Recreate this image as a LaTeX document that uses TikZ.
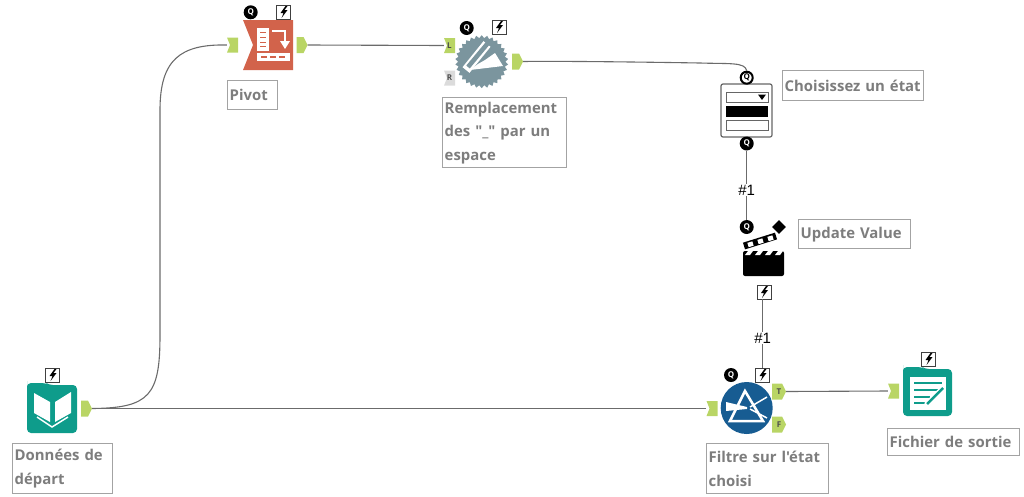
\documentclass[tikz,border=0pt]{standalone}
\usepackage{fontspec}
\newfontfamily\labelfont{Open Sans}
\setmainfont{Open Sans}
\newfontfamily\hashfont{Liberation Sans}
\usetikzlibrary{shapes.geometric,arrows.meta}
\definecolor{portgreen}{HTML}{B9D565}
\definecolor{pivotred}{HTML}{D2634B}
\definecolor{gearblue}{HTML}{7B959E}
\definecolor{tealicon}{HTML}{0E9C8B}
\definecolor{filterblue}{HTML}{175C92}
\definecolor{labelgrey}{HTML}{7D7D7D}
\definecolor{boxgrey}{HTML}{A3A3A3}
\definecolor{wiregrey}{HTML}{6B6B6B}
\tikzset{
    wire/.style={draw=wiregrey, line width=1.1pt},
    labelbox/.style={draw=boxgrey, line width=1.4pt, fill=white, anchor=north west, inner xsep=2pt, inner ysep=0pt,
        align=left, text=labelgrey, font=\fontsize{14.9}{23.5}\selectfont\labelfont\bfseries},
    hashlabel/.style={inner sep=1pt, font=\fontsize{15}{16}\selectfont\hashfont},
    qbadge/.style={circle, fill=black, minimum size=14pt, inner sep=0pt, text=white, font=\fontsize{8}{8}\selectfont\bfseries},
    qring/.style={circle, draw=black, line width=2pt, fill=white, minimum size=12pt, inner sep=0pt, text=black, font=\fontsize{8}{8}\selectfont\bfseries},
    boltbox/.style={rectangle, draw=black!75, line width=0.9pt, fill=white, minimum size=14pt, inner sep=0pt,
        path picture={\fill[black, shift={(path picture bounding box.center)}]
            (2,-6) -- (-3,1) -- (0,1) -- (-2,6) -- (4,-2) -- (1,-2) -- (4,-6) -- cycle;}},
    outport/.style={rectangle, minimum width=11pt, minimum height=16pt, inner sep=0pt, font=\fontsize{8}{8}\selectfont\bfseries, text=black!70,
        path picture={\fill[portgreen] (path picture bounding box.south west) -- (path picture bounding box.north west)
            -- ([xshift=-4pt]path picture bounding box.north east) -- (path picture bounding box.east)
            -- ([xshift=-4pt]path picture bounding box.south east) -- cycle;}},
    inport/.style={rectangle, minimum width=11pt, minimum height=15pt, inner sep=0pt, font=\fontsize{8}{8}\selectfont\bfseries, text=black!70,
        path picture={\fill[#1] (path picture bounding box.south west) -- ([xshift=3pt]path picture bounding box.west)
            -- (path picture bounding box.north west) -- (path picture bounding box.north east)
            -- (path picture bounding box.south east) -- cycle;}},
    inport/.default=portgreen,
}
\begin{document}
\begin{tikzpicture}[x=1pt,y=-1pt]
    \useasboundingbox (0,0) rectangle (1024,496);

    % Donnees de depart
    \fill[tealicon, rounded corners=4pt] (27,385) -- (27,383) -- (46,383) -- (49,385) -- (77,385) -- (77,433) -- (27,433) -- cycle;
    \fill[white] (34,393) -- (50,402) -- (50,422) -- (34,413) -- cycle;
    \fill[white] (55,402) -- (71,392) -- (71,413) -- (55,422) -- cycle;
    \draw[white, line width=1.5pt] (37,417) -- (52,427) -- (68,417);
    \node[boltbox] (boltData) at (52.5,375) {};
    \node[outport] (outData) at (86.5,408.5) {};
    \node[labelbox, minimum height=50pt, text width=96pt] (lblData) at (12,443) {Données de\\départ};

    % Pivot
    \fill[pivotred] (243,20) -- (293,20) -- (293,70) -- (243,70) -- (253,45) -- cycle;
    \fill[white] (257,28) rectangle (269,51);
    \foreach \y in {33,38,43,47} \fill[pivotred] (260,\y-1) rectangle (266,\y);
    \draw[white, line width=2pt] (272,31) -- (285,31) -- (285,42);
    \fill[white] (280,41) -- (290,41) -- (285,49) -- cycle;
    \fill[white] (257,53) rectangle (290,61);
    \foreach \x in {261,270,279} \fill[pivotred] (\x,56) rectangle (\x+6,58);
    \node[qbadge] (qPivot) at (250.7,12.3) {Q};
    \node[boltbox] (boltPivot) at (283.5,12) {};
    \node[inport] (inPivot) at (232.5,45) {};
    \node[outport] (outPivot) at (302,45) {};
    \node[labelbox, minimum height=29pt, text width=46pt] (lblPivot) at (227,80) {Pivot};

    % Remplacement
    \node[star, star points=30, star point ratio=1.12, minimum size=53pt, inner sep=0pt, fill=gearblue] (gear) at (481.7,61.7) {};
    \draw[white, line width=9pt] (466,70) -- (487,44);
    \draw[gearblue, line width=4.5pt] (468,67) -- (488,43);
    \fill[white] (470,70) -- (503,66) -- (495,53) -- (485,60) -- (478,64) -- cycle;
    \node[qbadge] (qGear) at (466.7,28) {Q};
    \node[boltbox] (boltGear) at (499,27) {};
    \node[inport] (inL) at (449.5,45.5) {L};
    \node[inport={black!14}] (inR) at (449.5,78) {R};
    \node[outport] (outGear) at (517.5,61.5) {};
    \node[labelbox, minimum height=70pt, text width=120pt] (lblGear) at (442,97) {Remplacement\\des "\_" par un\\espace};

    % Choisissez un etat
    \node[draw=black!60, line width=1.2pt, fill=white, rounded corners=2pt, minimum width=51pt, minimum height=53pt] (dropBox) at (746.5,110.5) {};
    \draw[black!60, line width=0.8pt] (726,92) rectangle (768,102);
    \fill[black] (726,106) rectangle (768,117);
    \draw[black!60, line width=0.8pt] (726,120) rectangle (768,130);
    \fill[black] (758,94.5) -- (766,94.5) -- (762,100) -- cycle;
    \node[qring] (qDropIn) at (746.7,77.7) {Q};
    \node[qbadge] (qDropOut) at (746.7,143.5) {Q};
    \node[labelbox, minimum height=30pt, text width=137pt] (lblDrop) at (782,70) {Choisissez un état};

    % Update Value
    \fill[black, rounded corners=2pt] (743,251) rectangle (784,276);
    \foreach \x in {748,758,768,778} \fill[white] (\x,251) -- (\x+5,251) -- (\x+2,255) -- (\x-3,255) -- cycle;
    \draw[black, line width=7pt] (744,246) -- (776,236);
    \foreach \xa/\ya in {748/245,758/242,768/239} \draw[white, line width=4.5pt] (\xa,\ya) -- (\xa+5,\ya-1.5);
    \node[diamond, fill=black, minimum size=14pt, inner sep=0pt] (actionTip) at (779,227) {};
    \node[qbadge] (qUpdate) at (746.7,227) {Q};
    \node[boltbox] (boltUpdate) at (764,292) {};
    \node[labelbox, minimum height=29pt, text width=108pt] (lblUpdate) at (798,219) {Update Value};

    % Filtre
    \node[circle, fill=filterblue, minimum size=52pt, inner sep=0pt] (filterIcon) at (746.7,408) {};
    \draw[white, line width=2.5pt] (745,391) -- (730,421) -- (763,421) -- cycle;
    \fill[white] (726,402) -- (747,407) -- (747,409) -- (726,411) -- cycle;
    \draw[white, line width=1.5pt] (750,407) -- (767,397);
    \draw[white, line width=1.5pt] (750,409) -- (767,418);
    \node[qbadge] (qFilter) at (731,375) {Q};
    \node[boltbox] (boltFilter) at (762.5,375) {};
    \node[inport] (inFilter) at (712,408.5) {};
    \node[outport, minimum width=14pt] (outTrue) at (779,391.5) {T};
    \node[outport, minimum width=14pt] (outFalse) at (779,424.5) {F};
    \node[labelbox, minimum height=50pt, text width=118pt] (lblFilter) at (706,443) {Filtre sur l'état\\choisi};

    % Fichier de sortie
    \fill[tealicon, rounded corners=4pt] (903,369) -- (903,367) -- (922,367) -- (925,369) -- (952,369) -- (952,416) -- (903,416) -- cycle;
    \fill[white] (910,377) rectangle (946,410);
    \foreach \y/\xe in {383/942,390/938,397/930,403/925} \draw[tealicon, line width=2pt] (914,\y) -- (\xe,\y);
    \draw[white, line width=5pt] (926,405) -- (944,387);
    \draw[tealicon, line width=2.5pt] (927,404) -- (943,388);
    \node[boltbox] (boltOut) at (928.5,359) {};
    \node[inport] (inOut) at (893.5,391) {};
    \node[labelbox, minimum height=27pt, text width=128pt] (lblOut) at (887,428) {Fichier de sortie};

    % Wires
    \coordinate (bendLow) at (160,335);
    \coordinate (bendHigh) at (160,110);
    \coordinate (bendDrop) at (700,63);
    \node[hashlabel] (hashA) at (746.7,190) {\#1};
    \node[hashlabel] (hashB) at (762.7,338) {\#1};
    \draw[wire] (outData.east) .. controls (150,408) and (160,395) .. (bendLow) -- (bendHigh)
        .. controls (160,60) and (180,44) .. (inPivot.west);
    \draw[wire] (outData.east) -- (inFilter.west);
    \draw[wire] (outPivot.east) -- (inL.west);
    \draw[wire] (outGear.east) .. controls (560,61) and (640,62) .. (bendDrop)
        .. controls (730,64) and (745,62) .. (qDropIn.north);
    \draw[wire] (qDropOut.south) -- (hashA.north);
    \draw[wire] (hashA.south) -- (qUpdate.north);
    \draw[wire] (boltUpdate.south -| hashB.north) -- (hashB.north);
    \draw[wire] (hashB.south) -- (hashB.south |- boltFilter.north);
    \draw[wire] (outTrue.east) -- (inOut.west);
\end{tikzpicture}
\end{document}
